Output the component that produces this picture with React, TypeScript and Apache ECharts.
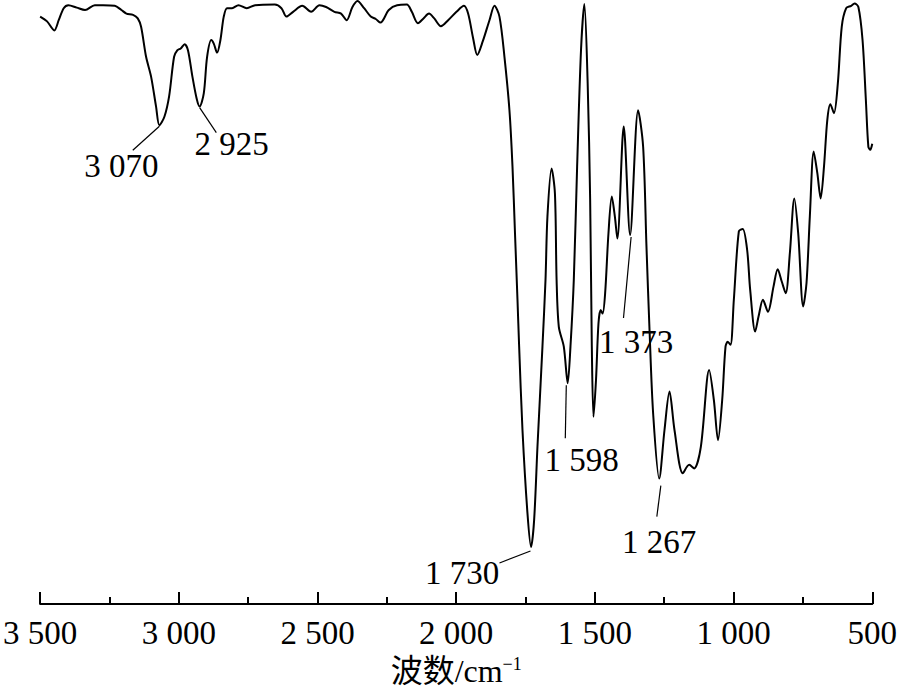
import { useEffect, useRef } from 'react';
import * as echarts from 'echarts';

const wavenumber = [
  3500, 3475, 3449, 3433, 3415, 3398, 3368, 3338, 3303, 3273,
  3231, 3207, 3189, 3165, 3148, 3136, 3118, 3100, 3082, 3070,
  3052, 3035, 3017, 3005, 2993, 2979, 2967, 2951, 2936, 2925,
  2910, 2898, 2883, 2874, 2862, 2850, 2838, 2826, 2808, 2785,
  2755, 2725, 2654, 2630, 2612, 2588, 2555, 2523, 2493, 2469,
  2439, 2415, 2395, 2374, 2356, 2332, 2308, 2290, 2273, 2243,
  2213, 2178, 2160, 2138, 2118, 2098, 2079, 2055, 2029, 1999,
  1972, 1957, 1939, 1924, 1904, 1880, 1862, 1844, 1826, 1808,
  1797, 1788, 1779, 1773, 1761, 1743, 1730, 1719, 1707, 1689,
  1678, 1671, 1656, 1644, 1638, 1630, 1612, 1598, 1588, 1576,
  1564, 1550, 1538, 1526, 1517, 1511, 1505, 1496, 1487, 1479,
  1472, 1463, 1451, 1439, 1428, 1419, 1396, 1373, 1344, 1326,
  1314, 1303, 1290, 1268, 1249, 1231, 1213, 1183, 1160, 1142,
  1118, 1088, 1071, 1056, 1041, 1029, 1021, 1011, 999, 981,
  967, 951, 940, 922, 910, 894, 876, 856, 841, 826,
  812, 797, 781, 767, 749, 737, 725, 711, 698, 686,
  674, 662, 651, 638, 624, 610, 594, 576, 564, 550,
  535, 523, 514, 507, 500,
];

const transmittance = [
  97.9, 97.1, 95.6, 97.3, 99.3, 99.8, 99.4, 99.0, 99.8, 99.8,
  99.7, 99.0, 98.4, 98.2, 97.6, 96.2, 91.2, 87.9, 82.9, 79.8,
  81.2, 84.6, 91.2, 92.3, 92.6, 93.3, 92.3, 87.9, 84.3, 82.9,
  85.1, 91.2, 94.0, 93.4, 91.9, 94.0, 97.9, 99.3, 99.3, 99.8,
  99.3, 99.8, 99.9, 99.3, 97.9, 98.7, 99.7, 98.7, 99.8, 99.5,
  98.7, 98.4, 97.3, 99.5, 100.5, 99.3, 97.9, 97.5, 96.9, 99.0,
  99.8, 99.9, 98.7, 96.8, 97.6, 98.4, 97.6, 96.3, 97.3, 98.7,
  99.7, 98.4, 94.3, 91.5, 93.8, 97.3, 99.7, 97.9, 91.2, 82.3,
  72.9, 61.8, 50.7, 42.9, 29.0, 15.1, 9.5, 14.0, 26.2, 42.9,
  54.0, 64.6, 72.6, 68.4, 54.0, 46.2, 42.9, 36.8, 42.9, 54.0,
  72.9, 92.3, 100.0, 86.8, 67.3, 42.9, 31.2, 37.3, 46.8, 49.0,
  48.4, 51.8, 61.8, 67.9, 64.6, 60.9, 79.6, 61.5, 82.3, 76.2,
  59.6, 45.7, 31.8, 20.9, 29.0, 35.4, 29.0, 21.8, 23.2, 22.6,
  26.2, 39.0, 34.0, 27.3, 34.0, 42.9, 43.7, 43.2, 50.7, 62.1,
  62.5, 59.0, 52.3, 45.4, 47.9, 50.7, 48.7, 52.9, 55.8, 53.7,
  51.8, 58.5, 67.6, 61.8, 49.6, 53.5, 64.6, 75.4, 71.8, 67.6,
  72.9, 80.7, 83.3, 81.8, 86.8, 96.2, 99.3, 99.7, 100.1, 99.5,
  94.0, 84.0, 76.2, 75.7, 76.7,
];

const peakLabels = ['3 070', '2 925', '1 730', '1 598', '1 373', '1 267'];
const peakAnchors = [3070, 2925, 1730, 1598, 1373, 1268];
// leader line start/end and text centre, in pixels relative to the peak
const peakOffsets = [
  [0, 1, -26.6, 25, -38, 41],
  [0, 1, 16.7, 26, 32, 37],
  [-0.6, 4, -31.6, 16, -69, 26],
  [-1.4, 2, -2.4, 55, 14, 77],
  [1, 2, -6.6, 83, 6, 107],
  [1.6, 7, -2.4, 38, 0, 63],
];

const SERIF = '"Liberation Serif", "Times New Roman", serif';
const CJK = '"Liberation Serif", "Noto Sans CJK SC", serif';

const fmt = (v: number) =>
  v >= 1000 ? `${Math.floor(v / 1000)} ${String(v % 1000).padStart(3, '0')}` : String(v);

export default function App() {
  const ref = useRef<HTMLDivElement>(null);
  useEffect(() => {
    const chart = echarts.init(ref.current!, null, { renderer: 'svg' });
    const data = wavenumber.map((w, i) => [w, transmittance[i]]);
    chart.setOption({
      animation: false,
      backgroundColor: '#ffffff',
      grid: { left: 38, right: 22, top: 0, bottom: 96 },
      xAxis: {
        type: 'value',
        min: 500,
        max: 3500,
        interval: 500,
        inverse: true,
        axisLine: { onZero: false, lineStyle: { color: '#000', width: 2 } },
        axisTick: { inside: true, length: 12, lineStyle: { color: '#000', width: 2 } },
        minorTick: { show: true, splitNumber: 2, length: 7, lineStyle: { color: '#000', width: 2 } },
        splitLine: { show: false },
        minorSplitLine: { show: false },
        axisLabel: { color: '#000', fontSize: 33, fontFamily: SERIF, margin: 12, formatter: fmt },
        name: '{a|波数/cm}{b|−1}',
        nameLocation: 'middle',
        nameGap: 51,
        nameTextStyle: {
          rich: {
            a: { fontSize: 32, fontFamily: CJK, color: '#000' },
            b: { fontSize: 18, fontFamily: SERIF, color: '#000', verticalAlign: 'top' },
          },
        },
      },
      yAxis: { type: 'value', min: 0, max: 604 / 6, show: false },
      series: [
        {
          type: 'line',
          data,
          smooth: 0.3,
          symbol: 'none',
          lineStyle: { color: '#000', width: 2 },
        },
      ],
    });

    const graphics: any[] = [];
    peakAnchors.forEach((w, i) => {
      const idx = wavenumber.indexOf(w);
      const [x, y] = chart.convertToPixel({ gridIndex: 0 }, [w, transmittance[idx]]) as number[];
      const o = peakOffsets[i];
      graphics.push({
        type: 'line',
        shape: { x1: x + o[0], y1: y + o[1], x2: x + o[2], y2: y + o[3] },
        style: { stroke: '#000', lineWidth: 1.2 },
      });
      graphics.push({
        type: 'text',
        x: x + o[4],
        y: y + o[5],
        style: {
          text: peakLabels[i],
          fontSize: 33,
          fontFamily: SERIF,
          fill: '#000',
          align: 'center',
          verticalAlign: 'middle',
        },
      });
    });
    chart.setOption({ graphic: graphics });

    return () => chart.dispose();
  }, []);
  return <div ref={ref} style={{ position: 'fixed', left: 0, top: 0, width: 900, height: 700 }} />;
}
